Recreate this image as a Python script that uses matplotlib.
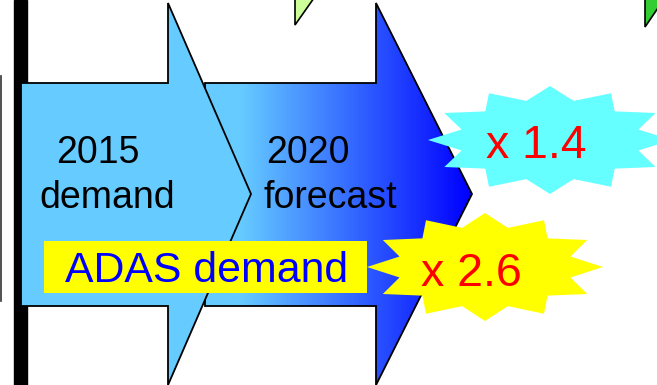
import numpy as np
import matplotlib
matplotlib.use("Agg")
import matplotlib.pyplot as plt
from matplotlib.patches import Polygon, Rectangle
from matplotlib.colors import to_rgb

plt.rcParams['font.family'] = ['Liberation Sans', 'DejaVu Sans']

# texts of the diagram
stage_years = ["2015", "2020"]
stage_words = ["demand", "forecast"]
growth = [1.4, 2.6]
label_text = "ADAS demand"

W, H = 657, 385
fig = plt.figure(figsize=(W / 100, H / 100), dpi=100)
ax = fig.add_axes([0, 0, 1, 1])
ax.set_xlim(0, W)
ax.set_ylim(H, 0)
ax.axis('off')


def arrow_pts(x0, x1, xt, ytop=83, ybot=306, htop=3, hbot=385, yc=194):
    return [(x0, ytop), (x1, ytop), (x1, htop), (xt, yc), (x1, hbot), (x1, ybot), (x0, ybot)]


def star_pts(cx, cy, rx, ry, n=12, ratio=0.75):
    pts = []
    for i in range(2 * n):
        a = np.pi / 2 + i * np.pi / n
        r = 1.0 if i % 2 == 0 else ratio
        pts.append((cx + r * rx * np.cos(a), cy - r * ry * np.sin(a)))
    return pts


# thin line and black bar at the left
ax.plot([0.8, 0.8], [76, 301], color='#333333', lw=1.2, zorder=1)
ax.add_patch(Rectangle((14, 0), 13, H, color='black', zorder=1))

# green triangles at the top edge
ax.add_patch(Polygon([(295, -2), (295, 25), (314, -2)], closed=True,
                     facecolor='#CCFF99', edgecolor='black', lw=1.2, zorder=1))
ax.add_patch(Polygon([(645, -2), (645, 27), (660, 5), (660, -2)], closed=True,
                     facecolor='#33CC33', edgecolor='black', lw=1.2, zorder=1))

# second arrow with gradient
a2 = Polygon(arrow_pts(205, 376, 472), closed=True, facecolor='none',
             edgecolor='black', lw=1.3, zorder=3)
c0, c1 = np.array(to_rgb('#66CCFF')), np.array(to_rgb('#0000FF'))
xs = np.linspace(205, 472, 300)
t = np.clip((xs - 240) / (470 - 240), 0, 1)
grad = (c0[None, :] * (1 - t[:, None]) + c1[None, :] * t[:, None])[None, :, :]
im = ax.imshow(grad, extent=[205, 472, 385, 3], aspect='auto', zorder=2,
               interpolation='bilinear')
ax.add_patch(a2)
im.set_clip_path(a2)

# first arrow
ax.add_patch(Polygon(arrow_pts(21, 168, 251), closed=True, facecolor='#66CCFF',
                     edgecolor='black', lw=1.3, zorder=4))

# stars
ax.add_patch(Polygon(star_pts(550, 140, 122, 54), closed=True,
                     facecolor='#66FFFF', edgecolor='none', zorder=5))
ax.add_patch(Polygon(star_pts(485, 267, 118, 54), closed=True,
                     facecolor='#FFFF00', edgecolor='none', zorder=5))

# label box
ax.add_patch(Rectangle((44, 241), 323, 52, facecolor='#FFFF00', edgecolor='none', zorder=6))
ax.text(65, 282, label_text, color='#0000FF', fontsize=30.8, va='baseline', ha='left', zorder=7)

# stage texts
for xc_year, xc_word, yr, wd in zip([98, 308], [107, 330], stage_years, stage_words):
    ax.text(xc_year, 163, yr, fontsize=27, ha='center', va='baseline', color='black', zorder=7)
    ax.text(xc_word, 208, wd, fontsize=27, ha='center', va='baseline', color='black', zorder=7)

# growth factors
for (xc, yb), g in zip([(536, 158), (471, 286)], growth):
    ax.text(xc, yb, f"x {g}", fontsize=33.5, ha='center', va='baseline', color='#FF0000', zorder=7)

fig.savefig('out.png', dpi=100)
